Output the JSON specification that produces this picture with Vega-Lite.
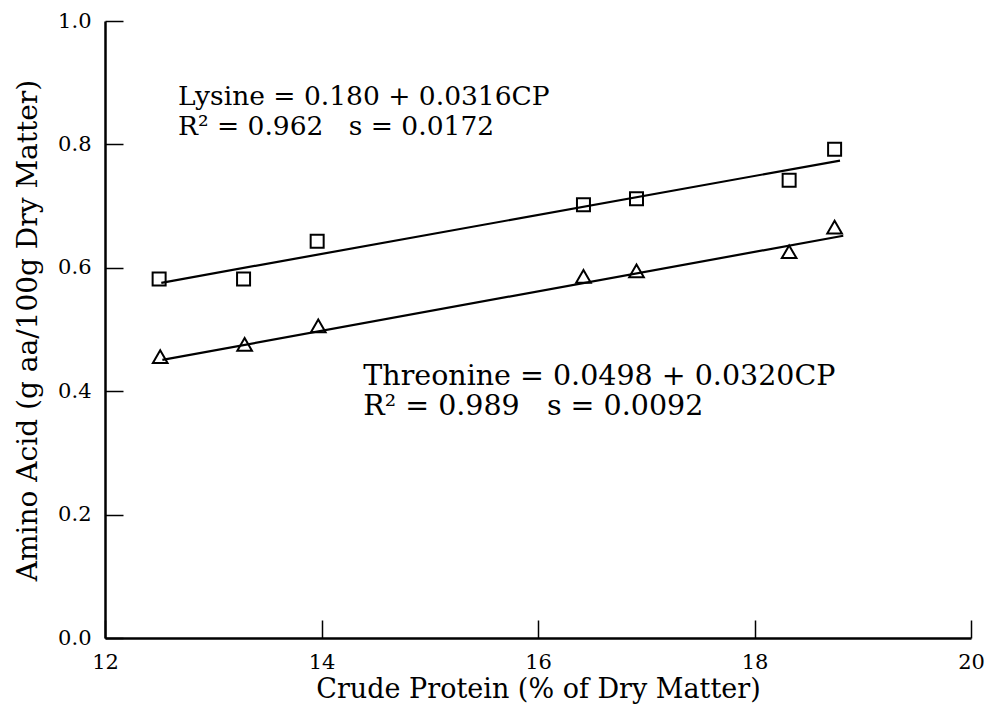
{
  "$schema": "https://vega.github.io/schema/vega-lite/v6.json",
  "width": 866,
  "height": 617,
  "autosize": {"type": "none"},
  "padding": {"left": 105, "top": 21, "right": 17, "bottom": 67},
  "background": "white",
  "config": {
    "view": {"stroke": null},
    "font": "DejaVu Serif",
    "axis": {
      "grid": false,
      "domainColor": "black",
      "domainWidth": 2.5,
      "tickColor": "black",
      "tickWidth": 1.5,
      "tickSize": -18,
      "labelColor": "black",
      "labelFont": "DejaVu Serif",
      "labelFontSize": 21,
      "titleColor": "black",
      "titleFont": "DejaVu Serif",
      "titleFontWeight": "normal"
    }
  },
  "datasets": {
    "points": [
      {"cp": 12.50, "aa": 0.582, "acid": "Lysine"},
      {"cp": 13.28, "aa": 0.582, "acid": "Lysine"},
      {"cp": 13.96, "aa": 0.643, "acid": "Lysine"},
      {"cp": 16.42, "aa": 0.702, "acid": "Lysine"},
      {"cp": 16.91, "aa": 0.712, "acid": "Lysine"},
      {"cp": 18.32, "aa": 0.742, "acid": "Lysine"},
      {"cp": 18.74, "aa": 0.792, "acid": "Lysine"},
      {"cp": 12.51, "aa": 0.456, "acid": "Threonine"},
      {"cp": 13.29, "aa": 0.476, "acid": "Threonine"},
      {"cp": 13.97, "aa": 0.506, "acid": "Threonine"},
      {"cp": 16.42, "aa": 0.586, "acid": "Threonine"},
      {"cp": 16.91, "aa": 0.595, "acid": "Threonine"},
      {"cp": 18.32, "aa": 0.626, "acid": "Threonine"},
      {"cp": 18.74, "aa": 0.666, "acid": "Threonine"}
    ],
    "fits": [
      {"cp": 12.52, "aa": 0.5757, "acid": "Lysine"},
      {"cp": 18.79, "aa": 0.7738, "acid": "Lysine"},
      {"cp": 12.53, "aa": 0.4508, "acid": "Threonine"},
      {"cp": 18.82, "aa": 0.6520, "acid": "Threonine"}
    ],
    "lysNote": [
      {"cp": 12.674, "aa": 0.864, "label": "Lysine = 0.180 + 0.0316CP"},
      {"cp": 12.674, "aa": 0.815, "label": "R² = 0.962\u00a0\u00a0 s = 0.0172"}
    ],
    "thrNote": [
      {"cp": 14.386, "aa": 0.410, "label": "Threonine = 0.0498 + 0.0320CP"},
      {"cp": 14.386, "aa": 0.3614, "label": "R² = 0.989\u00a0\u00a0 s = 0.0092"}
    ]
  },
  "layer": [
    {
      "data": {"name": "fits"},
      "mark": {"type": "line", "color": "black", "strokeWidth": 2.2},
      "encoding": {
        "x": {
          "field": "cp", "type": "quantitative",
          "scale": {"domain": [12, 20], "nice": false, "zero": false},
          "axis": {
            "title": "Crude Protein (% of Dry Matter)",
            "values": [12, 14, 16, 18, 20],
            "format": "d",
            "labelPadding": 31,
            "labelFlush": false,
            "labelOverlap": false,
            "titleFontSize": 27,
            "titleBaseline": "alphabetic",
            "titleAnchor": "middle",
            "titleX": 433,
            "titleY": 59
          }
        },
        "y": {
          "field": "aa", "type": "quantitative",
          "scale": {"domain": [0, 1], "nice": false, "zero": false},
          "axis": {
            "title": "Amino Acid (g aa/100g Dry Matter)",
            "values": [0, 0.2, 0.4, 0.6, 0.8, 1.0],
            "format": ".1f",
            "labelPadding": 32,
            "labelFlush": false,
            "labelOverlap": false,
            "titleFontSize": 28,
            "titleBaseline": "alphabetic",
            "titleAngle": -90,
            "titleAnchor": "middle",
            "titleX": -69,
            "titleY": 309
          }
        },
        "detail": {"field": "acid", "type": "nominal"}
      }
    },
    {
      "data": {"name": "points"},
      "mark": {"type": "point", "filled": false, "color": "black", "strokeWidth": 2, "opacity": 1},
      "encoding": {
        "x": {"field": "cp", "type": "quantitative"},
        "y": {"field": "aa", "type": "quantitative"},
        "shape": {
          "field": "acid", "type": "nominal",
          "scale": {"domain": ["Lysine", "Threonine"], "range": ["square", "triangle-up"]},
          "legend": null
        },
        "size": {
          "field": "acid", "type": "nominal",
          "scale": {"domain": ["Lysine", "Threonine"], "range": [169, 215]},
          "legend": null
        }
      }
    },
    {
      "data": {"name": "lysNote"},
      "mark": {"type": "text", "align": "left", "baseline": "alphabetic", "fontSize": 26.5, "color": "black", "font": "DejaVu Serif"},
      "encoding": {
        "x": {"field": "cp", "type": "quantitative"},
        "y": {"field": "aa", "type": "quantitative"},
        "text": {"field": "label"}
      }
    },
    {
      "data": {"name": "thrNote"},
      "mark": {"type": "text", "align": "left", "baseline": "alphabetic", "fontSize": 28.5, "color": "black", "font": "DejaVu Serif"},
      "encoding": {
        "x": {"field": "cp", "type": "quantitative"},
        "y": {"field": "aa", "type": "quantitative"},
        "text": {"field": "label"}
      }
    }
  ]
}
